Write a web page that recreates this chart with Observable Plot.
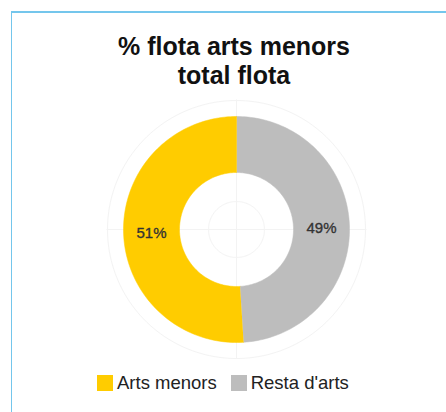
<!DOCTYPE html>
<html><head><meta charset="utf-8">
<script src="https://cdn.jsdelivr.net/npm/d3@7"></script>
<script src="https://cdn.jsdelivr.net/npm/@observablehq/plot@0.6"></script>
<style>
html,body{margin:0;padding:0;background:#fff;width:446px;height:412px;overflow:hidden;font-family:"Liberation Sans",Arial,Helvetica,sans-serif;}
#frame{position:absolute;left:11px;top:11px;width:450px;height:420px;border-top:2px solid #74c6ec;border-left:1px solid #74c6ec;}
#title{position:absolute;left:34px;top:32px;width:400px;text-align:center;font-weight:bold;font-size:25px;line-height:29px;color:#111;}
#chart{position:absolute;left:86px;top:99px;}
#legend{position:absolute;left:97px;top:375px;display:flex;align-items:center;font-size:18.5px;color:#222;}
.item{display:flex;align-items:center;margin-right:14px;}
.sw{width:16px;height:16px;margin-right:4px;}
.lab{line-height:16px;white-space:nowrap;}
</style></head>
<body>
<div id="frame"></div>
<div id="title">% flota arts menors<br>total flota</div>
<div id="chart"></div>
<div id="legend"></div>
<script>
const categories = ["Arts menors", "Resta d'arts"];
const values = [51, 49];
const labels = ["51%", "49%"];
const colors = ["#FFCC00", "#BDBDBD"];
const gridRadii = [28, 129];

const R_OUT = 113, R_IN = 57, R_LAB = 85, GRID_EXT = 130;

// gray slice starts at 12 o'clock going clockwise, then yellow
const order = [1, 0];
const pie = d3.pie().sort(null).value(i => values[i]);
const arcs = pie(order);

const slicePts = [];
const labelPts = [];
for (const a of arcs) {
  const cat = categories[a.data];
  const n = 120;
  for (let k = 0; k <= n; k++) {
    const t = a.startAngle + (a.endAngle - a.startAngle) * k / n;
    slicePts.push({cat, x: R_OUT * Math.sin(t), y: R_OUT * Math.cos(t)});
  }
  for (let k = n; k >= 0; k--) {
    const t = a.startAngle + (a.endAngle - a.startAngle) * k / n;
    slicePts.push({cat, x: R_IN * Math.sin(t), y: R_IN * Math.cos(t)});
  }
  const m = (a.startAngle + a.endAngle) / 2;
  labelPts.push({text: labels[a.data], x: R_LAB * Math.sin(m), y: R_LAB * Math.cos(m)});
}

const gridPts = [];
for (const r of gridRadii) {
  for (let k = 0; k <= 180; k++) {
    const t = 2 * Math.PI * k / 180;
    gridPts.push({r, x: r * Math.sin(t), y: r * Math.cos(t)});
  }
}
const cross = [
  {x1: -GRID_EXT, y1: 0, x2: GRID_EXT, y2: 0},
  {x1: 0, y1: -GRID_EXT, x2: 0, y2: GRID_EXT}
];

const chart = Plot.plot({
  width: 300, height: 260, margin: 0,
  x: {domain: [-150, 150], axis: null},
  y: {domain: [-130, 130], axis: null},
  color: {domain: categories, range: colors},
  style: {fontFamily: "Liberation Sans, Arial, sans-serif", background: "transparent"},
  marks: [
    Plot.line(gridPts, {x: "x", y: "y", z: "r", stroke: "#f3f3f3", strokeWidth: 1}),
    Plot.link(cross, {x1: "x1", y1: "y1", x2: "x2", y2: "y2", stroke: "#f3f3f3", strokeWidth: 1}),
    Plot.line(slicePts, {x: "x", y: "y", z: "cat", fill: "cat", stroke: "cat", strokeWidth: 0.5}),
    Plot.text(labelPts, {x: "x", y: "y", text: "text", fill: "#333", stroke: "#333", strokeWidth: 0.35, fontSize: 15, dy: 1})
  ]
});
document.getElementById("chart").appendChild(chart);

const leg = document.getElementById("legend");
categories.forEach((c, i) => {
  const it = document.createElement("div"); it.className = "item";
  const sw = document.createElement("div"); sw.className = "sw"; sw.style.background = colors[i];
  const lb = document.createElement("span"); lb.className = "lab"; lb.textContent = c;
  it.appendChild(sw); it.appendChild(lb); leg.appendChild(it);
});
</script>
</body></html>
